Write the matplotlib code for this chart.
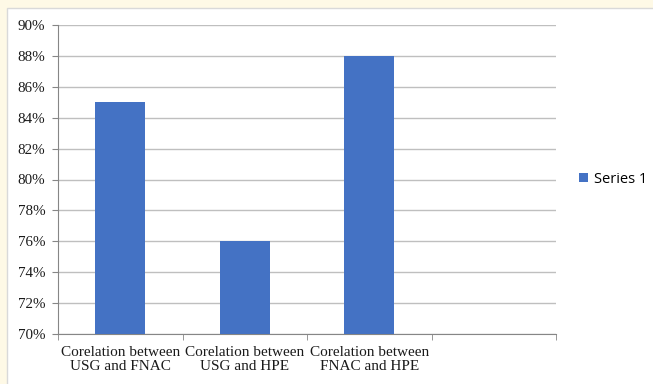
import matplotlib.pyplot as plt
from matplotlib.patches import Rectangle
from matplotlib.ticker import FuncFormatter

categories = ['Corelation between\nUSG and FNAC',
              'Corelation between\nUSG and HPE',
              'Corelation between\nFNAC and HPE',
              '']
values = [85, 76, 88, None]
series_name = 'Series 1'
yticks = [70, 72, 74, 76, 78, 80, 82, 84, 86, 88, 90]

fig = plt.figure(figsize=(6.53, 3.84), dpi=100)
fig.patch.set_facecolor('#fef9e6')
# white chart area with thin border, drawn below the axes
fig.patches.append(Rectangle((7 / 653, -0.01), 1, 1.01 - 8 / 384, transform=fig.transFigure,
                             facecolor='white', edgecolor='#d9d9d9', linewidth=1.0,
                             zorder=-10))

ax = fig.add_axes([58 / 653, 1 - 334 / 384, (556 - 58) / 653, (334 - 25) / 384])
ax.set_facecolor('white')

xs = [i for i, v in enumerate(values) if v is not None]
hs = [v for v in values if v is not None]
ax.bar(xs, [h - 70 for h in hs], bottom=70, width=0.4, color='#4472c4',
       label=series_name, zorder=3)

ax.set_xlim(-0.5, 3.5)
ax.set_ylim(70, 90)
ax.set_yticks(yticks)
ax.yaxis.set_major_formatter(FuncFormatter(lambda v, p: f'{int(v)}%'))
ax.grid(axis='y', color='#bfbfbf', linewidth=1.0, zorder=0)

ax.set_xticks(range(4))
ax.set_xticklabels(categories, linespacing=1.1)
ax.set_xticks([-0.5, 0.5, 1.5, 2.5, 3.5], minor=True)
ax.tick_params(axis='x', which='major', length=0, pad=9)
ax.tick_params(axis='x', which='minor', length=4, color='#868686', direction='out')
ax.tick_params(axis='y', length=4, color='#868686', pad=5)

for lab in ax.get_xticklabels():
    lab.set_fontfamily('Liberation Serif')
    lab.set_fontsize(11)
    lab.set_color('#1a1a1a')
for lab in ax.get_yticklabels():
    lab.set_fontfamily('Liberation Serif')
    lab.set_fontsize(10.8)
    lab.set_color('#1a1a1a')

for s in ['top', 'right']:
    ax.spines[s].set_visible(False)
ax.spines['left'].set_color('#868686')
ax.spines['bottom'].set_color('#868686')

ax.legend(loc='center left', bbox_to_anchor=(1.02, 0.5), frameon=False,
          prop={'family': 'Open Sans', 'size': 10.5}, handlelength=0.6,
          handleheight=0.6, handletextpad=0.4)

fig.savefig('out.png', dpi=100, facecolor=fig.get_facecolor())
